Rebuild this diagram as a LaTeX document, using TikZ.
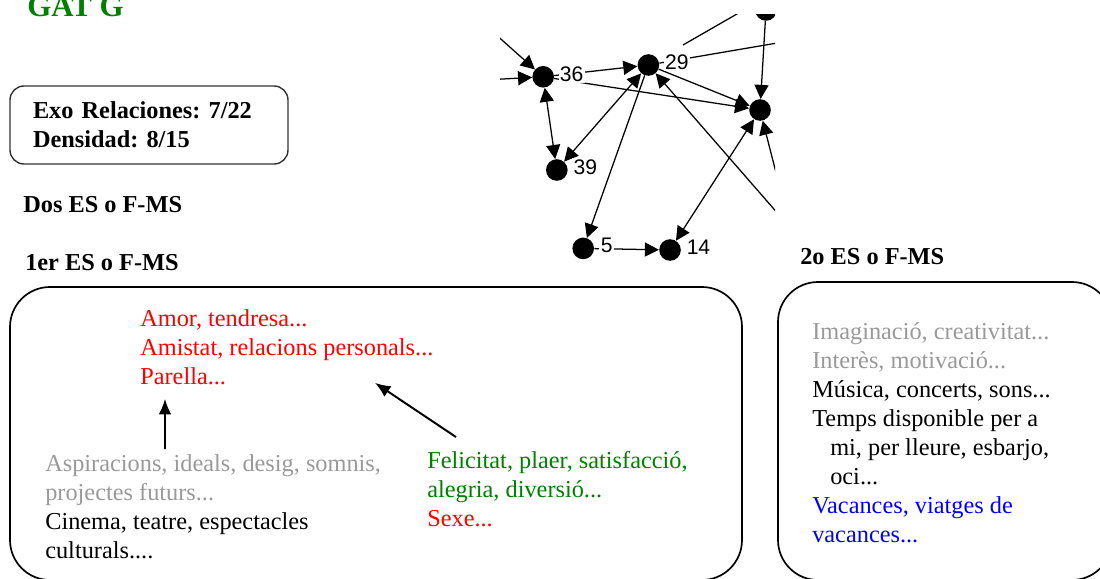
\documentclass[tikz,border=0pt]{standalone}
\usepackage{fontspec}
\setmainfont{Liberation Serif}
\setsansfont{Liberation Sans}
\usetikzlibrary{positioning,arrows.meta}

\definecolor{gatgreen}{RGB}{0,128,0}
\colorlet{faded}{black!40}
\newcommand{\esfont}{\fontsize{17.3}{20.6}\selectfont}
\frenchspacing

\begin{document}
\begin{tikzpicture}[
    % Styles
    panel/.style={draw, line width=1.2pt, rounded corners=1cm, inner sep=0},
    statbox/.style={draw=black!80, line width=1pt, rounded corners=0.35cm, align=left, text width=5.8cm, inner xsep=0.575cm, minimum height=1.95cm, font=\esfont\bfseries},
    heading/.style={font=\esfont\bfseries, inner sep=0, anchor=west},
    item/.style={font=\esfont, align=left, inner sep=0, anchor=west},
    actor/.style={circle, fill=black, minimum size=0.54cm, inner sep=0},
    actorlbl/.style={font=\sffamily\fontsize{15}{15}\selectfont, fill=white, inner sep=1pt, yshift=2pt},
    tie/.style={-{Triangle[length=10pt,width=10pt]}, line width=0.9pt},
    mutual-tie/.style={{Triangle[length=10pt,width=10pt]}-{Triangle[length=10pt,width=10pt]}, line width=0.9pt},
    plain-tie/.style={line width=0.9pt},
    link-arrow/.style={-{Latex[length=11pt,width=9pt]}, line width=1.4pt},
]
\useasboundingbox (0,0) rectangle (27.5,14.45);
\clip (0,0) rectangle (27.5,14.45);

% Title
\node[font=\fontsize{22}{22}\selectfont\bfseries, text=gatgreen, anchor=base west, inner sep=0] (title) at (0.675, 14.04) {GAT G};

% Group measures
\node[statbox] (stats) at (3.725, 11.325) {Exo Relaciones: 7/22\\Densidad: 8/15};

\node[heading] (dos) at (0.575, 9.325) {Dos ES o F-MS};
\node[heading] (first-head) at (0.625, 7.875) {1er ES o F-MS};
\node[heading] (second-head) at (20.0, 8.025) {2o ES o F-MS};

% Network (cut out of a bigger graph)
\begin{scope}
    \clip (12.5, 7.8) rectangle (19.375, 14.075);

    \node[actor] (n36) at (13.58, 12.53) {};
    \node[actor] (n29) at (16.21, 12.825) {};
    \node[actor] (nR) at (19.0, 11.7) {};
    \node[actor] (n39) at (13.92, 10.2) {};
    \node[actor] (n5) at (14.58, 8.24) {};
    \node[actor] (n14) at (16.75, 8.2) {};
    \node[actor] (ntop) at (19.15, 14.2) {};

    % ends outside the cut
    \coordinate (ghostA) at (11.65, 14.25);
    \coordinate (ghostB) at (11.65, 12.425);
    \coordinate (ghostC) at (20.75, 13.6);
    \coordinate (ghostF) at (19.575, 9.45);
    \coordinate (ghostG) at (20.0, 8.475);
    \coordinate (fragA) at (17.075, 13.325);
    \coordinate (fragB) at (19.25, 14.575);

    \draw[tie] (ghostA) -- (n36);
    \draw[tie] (ghostB) -- (n36);
    \draw[tie] (n36) -- (n29);
    \draw[tie] (n36) -- (nR);
    \draw[mutual-tie] (n36) -- (n39);
    \draw[mutual-tie] (n39) -- (n29);
    \draw[tie] (n29) -- (n5);
    \draw[tie] (n5) -- (n14);
    \draw[mutual-tie] (n14) -- (nR);
    \draw[tie] (n29) -- (nR);
    \draw[plain-tie] (n29) -- (ghostC);
    \draw[plain-tie] (fragA) -- (fragB);
    \draw[tie] (ntop) -- (nR);
    \draw[tie] (ghostF) -- (nR);
    \draw[tie] (ghostG) -- (n29);

    % labels over the lines
    \node[actorlbl, right=0.1cm of n36] (lbl36) {36};
    \node[actorlbl, right=0.1cm of n29] (lbl29) {29};
    \node[actorlbl, right=0.1cm of n39] (lbl39) {39};
    \node[actorlbl, right=0.12cm of n5] (lbl5) {5};
    \node[actorlbl, right=0.1cm of n14] (lbl14) {14};
\end{scope}

% First ES / F-MS
\node[panel, minimum width=18.3cm, minimum height=7.325cm] (first) at (9.4, 3.6125) {};

\node[item, text=red] (love) at (3.5, 5.775) {Amor, tendresa...\\Amistat, relacions personals...\\Parella...};

\node[item] (aspire) at (1.125, 1.79) {\textcolor{faded}{Aspiracions, ideals, desig, somnis,}\\\textcolor{faded}{projectes futurs...}\\Cinema, teatre, espectacles\\culturals....};

\node[item] (joy) at (10.675, 2.225) {\textcolor{gatgreen}{Felicitat, plaer, satisfacció,}\\\textcolor{gatgreen}{alegria, diversió...}\\\textcolor{red}{Sexe...}};

\draw[link-arrow] ([xshift=3cm, yshift=0.125cm]aspire.north west) -- ([xshift=0.625cm, yshift=-0.35cm]love.south west);
\draw[link-arrow] ([xshift=0.725cm, yshift=0.35cm]joy.north west) -- ([xshift=5.875cm, yshift=0.05cm]love.south west);

% Second ES / F-MS
\node[panel, minimum width=8.35cm, minimum height=7.45cm] (second) at (23.625, 3.675) {};

\node[item] (leisure) at (20.3, 3.6375) {\textcolor{faded}{Imaginació, creativitat...}\\\textcolor{faded}{Interès, motivació...}\\Música, concerts, sons...\\Temps disponible per a\\\hspace*{0.45cm}mi, per lleure, esbarjo,\\\hspace*{0.45cm}oci...\\\textcolor{blue}{Vacances, viatges de}\\\textcolor{blue}{vacances...}};

\end{tikzpicture}
\end{document}
